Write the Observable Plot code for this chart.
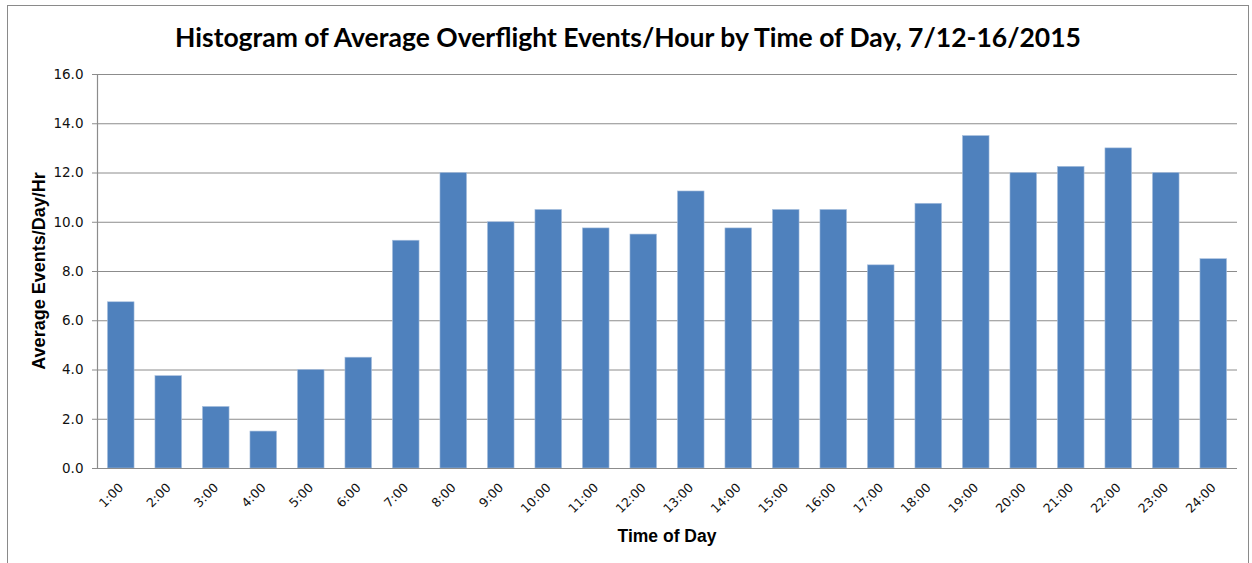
<!DOCTYPE html>
<html>
<head>
<meta charset="utf-8">
<script src="https://cdn.jsdelivr.net/npm/d3@7"></script>
<script src="https://cdn.jsdelivr.net/npm/@observablehq/plot@0.6"></script>
<style>
  html, body { margin: 0; padding: 0; background: #fff; }
  #wrap { position: relative; width: 1252px; height: 563px; overflow: hidden; }
  #border { position: absolute; left: 7px; top: 5px; width: 1242px; height: 600px; border: 1px solid #8a8a8a; box-sizing: border-box; pointer-events: none; }
  .t { position: absolute; white-space: nowrap; color: #000; font-weight: bold; line-height: 1; }
  #title { left: 628px; top: 37px; transform: translate(-50%, -50%); font-size: 26.5px; font-family: Lato, "Open Sans", sans-serif; }
  #xlabel { left: 667px; top: 537px; transform: translate(-50%, -50%); font-size: 17.5px; font-family: "Liberation Sans", Arial, sans-serif; }
  #ylabel { left: 39px; top: 271px; transform: translate(-50%, -50%) rotate(-90deg); font-size: 18px; font-family: "Liberation Sans", Arial, sans-serif; }
</style>
</head>
<body>
<div id="wrap">
  <div id="chart"></div>
  <div id="border"></div>
  <div class="t" id="title">Histogram of Average Overflight Events/Hour by Time of Day, 7/12-16/2015</div>
  <div class="t" id="ylabel">Average Events/Day/Hr</div>
  <div class="t" id="xlabel">Time of Day</div>
</div>
<script>
const hours = ["1:00","2:00","3:00","4:00","5:00","6:00","7:00","8:00","9:00","10:00","11:00","12:00",
               "13:00","14:00","15:00","16:00","17:00","18:00","19:00","20:00","21:00","22:00","23:00","24:00"];
const avgEvents = [6.75, 3.75, 2.5, 1.5, 4.0, 4.5, 9.25, 12.0, 10.0, 10.5, 9.75, 9.5,
                   11.25, 9.75, 10.5, 10.5, 8.25, 10.75, 13.5, 12.0, 12.25, 13.0, 12.0, 8.5];
const yTicks = [0, 2, 4, 6, 8, 10, 12, 14, 16];

const data = hours.map((h, i) => ({hour: h, value: avgEvents[i]}));

const chart = Plot.plot({
  width: 1252,
  height: 563,
  marginTop: 74,
  marginBottom: 95,
  marginLeft: 97,
  marginRight: 15,
  style: {fontFamily: "'DejaVu Sans', Verdana, sans-serif", fontSize: "12px", color: "#111", background: "transparent"},
  x: {domain: hours, paddingInner: 0.44, paddingOuter: 0.22, align: 0.5, round: false, label: null},
  y: {domain: [0, 16], label: null},
  marks: [
    Plot.gridY(yTicks, {stroke: "#8c8c8c", strokeOpacity: 1, strokeWidth: 1}),
    Plot.barY(data, {x: "hour", y: "value", fill: "#4F81BD", stroke: "#a9c0de", strokeWidth: 0.6}),
    Plot.ruleY([0], {stroke: "#8c8c8c", strokeWidth: 1.2}),
    Plot.frame({anchor: "left", stroke: "#8c8c8c", strokeWidth: 1.2}),
    Plot.axisY({ticks: yTicks, tickSize: 5, tickPadding: 9, tickFormat: d => d.toFixed(1), stroke: "#8c8c8c", fill: "#111", fontSize: 13.5, label: null}),
    Plot.axisX({tickSize: 0, tickPadding: 17, tickRotate: -45, fill: "#111", fontSize: 12.5, label: null})
  ]
});
document.getElementById("chart").appendChild(chart);
</script>
</body>
</html>
